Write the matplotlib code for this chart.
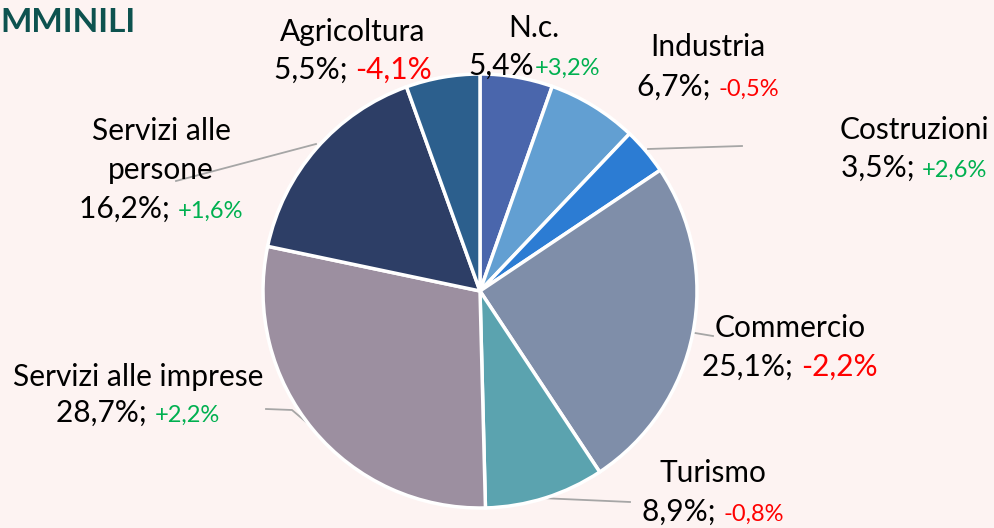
import matplotlib
matplotlib.use('Agg')
import matplotlib.pyplot as plt

# ---- data ----
categories = ['N.c.', 'Industria', 'Costruzioni', 'Commercio', 'Turismo',
              'Servizi alle imprese', 'Servizi alle persone', 'Agricoltura']
shares = [5.4, 6.7, 3.5, 25.1, 8.9, 28.7, 16.2, 5.5]
changes = [3.2, -0.5, 2.6, -2.2, -0.8, 2.2, 1.6, -4.1]
title_text = 'MMINILI'

# ---- style ----
colors = ['#4A66AC', '#629FD2', '#2C7CD3', '#7F8EA9', '#5BA3AF',
          '#9C8FA0', '#2D3E66', '#2C5F8D']
BG = '#FDF3F2'
FONT = 'Lato'
W, H = 995, 528

plt.rcParams['font.family'] = [FONT, 'DejaVu Sans']

fig = plt.figure(figsize=(W / 100, H / 100), dpi=100, facecolor=BG)
ax = fig.add_axes([0, 0, 1, 1])
ax.set_facecolor(BG)

def Y(py):
    return H - py

ax.pie(shares, colors=colors, center=(480, Y(291)), radius=217,
       startangle=90, counterclock=False,
       wedgeprops=dict(edgecolor='white', linewidth=2.5))
ax.set_xlim(0, W)
ax.set_ylim(0, H)
ax.set_aspect('equal')
ax.axis('off')

def fmt(v):
    return f'{v:.1f}%'.replace('.', ',')

def fmt_chg(v):
    s = f'{v:+.1f}%'.replace('.', ',')
    return s

MAIN = 21.5
SMALL = 17

# label layout: name lines, center x, first-line center y, line gap, separator, big change
layout = {
    'N.c.': (['N.c.'], 534, 28, 38, '', False),
    'Industria': (['Industria'], 708, 47, 40, '; ', False),
    'Costruzioni': (['Costruzioni'], 914, 130, 38, '; ', False),
    'Commercio': (['Commercio'], 790, 328, 39, '; ', True),
    'Turismo': (['Turismo'], 713, 473, 39, '; ', False),
    'Servizi alle imprese': (['Servizi alle imprese'], 138, 377, 36, '; ', False),
    'Servizi alle persone': (['Servizi alle', 'persone'], 161, 131, 39, '; ', False),
    'Agricoltura': (['Agricoltura'], 353, 32, 38, '; ', True),
}

fig.canvas.draw()
renderer = fig.canvas.get_renderer()

for cat, sh, ch in zip(categories, shares, changes):
    lines, cx, y0, gap, sep, big = layout[cat]
    y = y0
    for ln in lines:
        ax.text(cx, Y(y), ln, ha='center', va='center', fontsize=MAIN, color='black')
        y += gap
    ccol = '#FF0000' if ch < 0 else '#00B050'
    t1 = ax.text(0, Y(y), fmt(sh) + sep, ha='left', va='baseline',
                 fontsize=MAIN, color='black')
    t2 = ax.text(0, Y(y), fmt_chg(ch), ha='left', va='baseline',
                 fontsize=MAIN if big else SMALL, color=ccol)
    w1 = t1.get_window_extent(renderer).width
    w2 = t2.get_window_extent(renderer).width
    if sep == '':
        w1 += 1
    x0 = cx - (w1 + w2) / 2
    base = Y(y) - 9
    t1.set_position((x0, base))
    t2.set_position((x0 + w1, base))

# leader lines
LC = '#A6A6A6'
leaders = [
    [(648, 149), (742, 146)],
    [(316, 144), (176, 181)],
    [(312, 427), (292, 410), (266, 409)],
    [(695, 333), (713, 336)],
    [(540, 498), (630, 502)],
]
for pts in leaders:
    ax.plot([p[0] for p in pts], [Y(p[1]) for p in pts], color=LC, lw=1.3, zorder=0.5)

ax.text(0, Y(22), title_text, ha='left', va='center', fontsize=24,
        fontweight='bold', color='#0D524F')

fig.savefig('out.png', dpi=100, facecolor=BG)
